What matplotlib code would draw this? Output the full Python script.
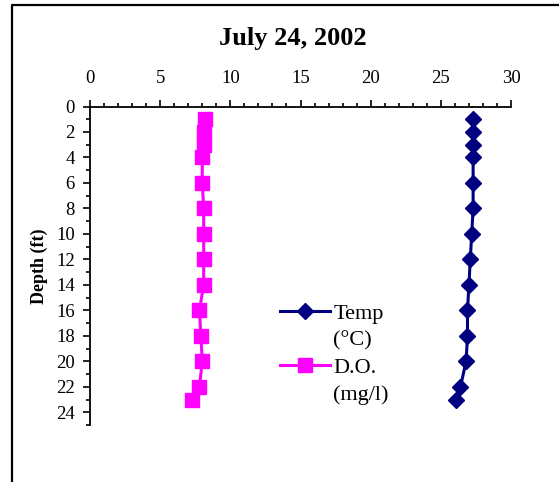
import numpy as np
import matplotlib
matplotlib.use("Agg")
from matplotlib import pyplot as plt
from matplotlib.lines import Line2D
from matplotlib.legend_handler import HandlerLine2D
from matplotlib.ticker import MultipleLocator

# profile readings, July 24 2002
depth = [1, 2, 3, 4, 6, 8, 10, 12, 14, 16, 18, 20, 22, 23]
temp_c = [27.3, 27.3, 27.3, 27.3, 27.3, 27.3, 27.2, 27.1, 27.0, 26.9, 26.9, 26.8, 26.4, 26.1]
do_mgl = [8.2, 8.1, 8.15, 8.0, 8.0, 8.1, 8.1, 8.1, 8.1, 7.8, 7.9, 8.0, 7.8, 7.3]

x_ticks = [0, 5, 10, 15, 20, 25, 30]
y_ticks = list(range(0, 25, 2))

NAVY = "#000080"
MAGENTA = "#FF00FF"


class FirstLineHandler(HandlerLine2D):
    """Put the legend handle next to the first line of a two-line label."""
    def create_artists(self, legend, orig_handle, xdescent, ydescent,
                       width, height, fontsize, trans):
        arts = super().create_artists(legend, orig_handle, xdescent, ydescent,
                                      width, height, fontsize, trans)
        for a in arts:
            a.set_ydata(np.asarray(a.get_ydata(), dtype=float) + 0.72 * fontsize)
        return arts


plt.rcParams['font.family'] = ['Liberation Serif', 'DejaVu Serif']

fig = plt.figure(figsize=(5.59, 4.82), dpi=100)
ax = fig.add_axes([90 / 559, 1 - 425 / 482, 421 / 559, 318.5 / 482])

ax.plot(temp_c, depth, color=NAVY, lw=2.2, marker='D', ms=8, label='Temp\n(°C)',
        clip_on=False)
ax.plot(do_mgl, depth, color=MAGENTA, lw=2.2, marker='s', ms=10, label='D.O.\n(mg/l)',
        clip_on=False)

ax.set_xlim(0, 30)
ax.set_ylim(25, 0)
ax.xaxis.tick_top()
ax.set_xticks(x_ticks)
ax.set_yticks(y_ticks)
ax.xaxis.set_minor_locator(MultipleLocator(1))
ax.yaxis.set_minor_locator(MultipleLocator(1))
ax.tick_params(axis='both', which='major', labelsize=13.5, direction='out',
               length=5, width=1.2, pad=6)
ax.tick_params(axis='both', which='minor', direction='out', length=3, width=1.2)
ax.tick_params(axis='x', which='major', pad=9)
for side in ['right', 'bottom']:
    ax.spines[side].set_visible(False)
for side in ['top', 'left']:
    ax.spines[side].set_linewidth(1.3)

ax.set_ylabel('Depth (ft)', fontsize=13, fontweight='bold', labelpad=6)
fig.text(293 / 559, 1 - 39 / 482, 'July 24, 2002', fontsize=19, fontweight='bold',
         ha='center', va='center')

leg = ax.legend(loc='upper left', bbox_to_anchor=(280 / 559, 1 - 305 / 482),
                bbox_transform=fig.transFigure, frameon=False, fontsize=16,
                handlelength=2.25, handletextpad=0.15, labelspacing=0.36,
                borderpad=0, borderaxespad=0,
                handler_map={Line2D: FirstLineHandler()})
for t in leg.get_texts():
    t.set_linespacing(1.52)

# outer chart frame (left and top edges)
fig.add_artist(Line2D([12 / 559, 12 / 559, 1], [0, 1 - 5 / 482, 1 - 5 / 482],
                      transform=fig.transFigure, color='black', lw=1.6))

fig.savefig('out.png', dpi=100)
